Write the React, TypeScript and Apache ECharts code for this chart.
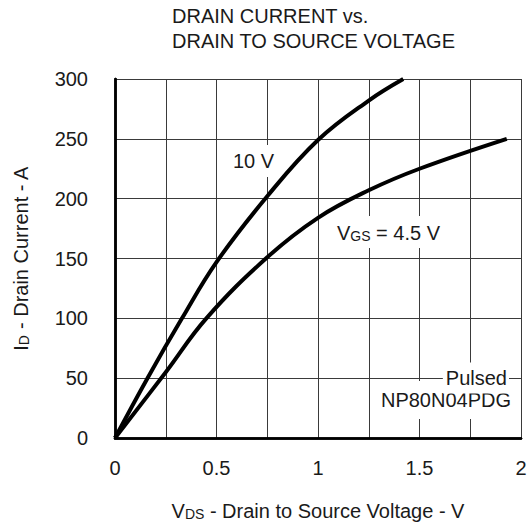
import React, { useEffect, useRef } from "react";
import * as echarts from "echarts";

const vgs10: [number, number][] = [
  [0, 0], [0.16, 50], [0.33, 100], [0.5, 147], [0.75, 202],
  [1.0, 249], [1.25, 282], [1.42, 300],
];
const vgs45: [number, number][] = [
  [0, 0], [0.25, 55], [0.45, 100], [0.75, 151], [1.0, 184],
  [1.25, 207], [1.5, 225], [1.93, 250],
];
const xTicks = { min: 0, max: 2, interval: 0.5 };
const yTicks = { min: 0, max: 300, interval: 50 };
const titleLines = ["DRAIN CURRENT vs.", "DRAIN TO SOURCE VOLTAGE"];

const FONT = "'Liberation Sans', Arial, sans-serif";
const TXT = "#1a1a1a";
const GRID = "#3a3a3a";

export default function App() {
  const ref = useRef<HTMLDivElement>(null);
  useEffect(() => {
    if (!ref.current) return;
    const chart = echarts.init(ref.current, undefined, { renderer: "svg" });
    const lbl = (text: string, x: number, y: number, align: string, pad: number[], rich?: any) => ({
      type: "text",
      x,
      y,
      z: 100,
      style: {
        text,
        x: 0,
        y: 0,
        align,
        verticalAlign: "middle",
        fontSize: 20,
        fontFamily: FONT,
        fill: TXT,
        backgroundColor: "#fff",
        padding: pad,
        rich,
      },
    });
    const subRich = {
      a: { fontSize: 20, fontFamily: FONT, color: TXT, fill: TXT, verticalAlign: "bottom", lineHeight: 22 },
      b: { fontSize: 14, fontFamily: FONT, color: TXT, fill: TXT, verticalAlign: "bottom", lineHeight: 20 },
    };
    const axisRich = {
      a: { fontSize: 20, fontFamily: FONT, color: TXT, verticalAlign: "bottom", lineHeight: 22 },
      b: { fontSize: 14, fontFamily: FONT, color: TXT, verticalAlign: "bottom", lineHeight: 20 },
    };
    const borderAxis = {
      show: true,
      z: 3,
      axisLine: { show: true, lineStyle: { color: "#000", width: 2.5 } },
      axisTick: { show: false },
      axisLabel: { show: false },
      splitLine: { show: false },
    };
    const gridLine = { show: true, lineStyle: { color: GRID, width: 1, type: "solid" } };
    chart.setOption({
      animation: false,
      backgroundColor: "#fff",
      title: {
        text: titleLines.join("\n"),
        left: 172,
        top: 3,
        padding: 0,
        textStyle: { fontSize: 20, lineHeight: 25, fontWeight: "normal", color: TXT, fontFamily: FONT },
      },
      grid: { left: 115, right: 11, top: 79, bottom: 84, containLabel: false, outerBoundsMode: "none" },
      xAxis: [
        {
          type: "value",
          ...xTicks,
          axisLine: { show: true, lineStyle: { color: "#000", width: 2.5 } },
          axisTick: { show: false },
          axisLabel: { margin: 20, fontSize: 20, color: TXT, fontFamily: FONT },
          splitLine: gridLine,
          minorTick: { show: false, splitNumber: 2 },
          minorSplitLine: gridLine,
          name: "{a|V}{b|DS}{a| - Drain to Source Voltage - V}",
          nameLocation: "middle",
          nameGap: 61,
          nameTextStyle: { rich: axisRich },
        },
        { type: "value", position: "top", ...xTicks, ...borderAxis },
      ],
      yAxis: [
        {
          type: "value",
          ...yTicks,
          axisLine: { show: true, lineStyle: { color: "#000", width: 2.5 } },
          axisTick: { show: false },
          axisLabel: { margin: 27, fontSize: 20, color: TXT, fontFamily: FONT },
          splitLine: gridLine,
          name: "{a|I}{b|D}{a| - Drain Current - A}",
          nameLocation: "middle",
          nameRotate: 90,
          nameGap: 84,
          nameTextStyle: { rich: axisRich },
        },
        { type: "value", position: "right", ...yTicks, ...borderAxis },
      ],
      series: [
        {
          name: "10 V",
          type: "line",
          data: vgs10,
          smooth: 0.4,
          showSymbol: false,
          lineStyle: { color: "#000", width: 4 },
          z: 2,
        },
        {
          name: "VGS = 4.5 V",
          type: "line",
          data: vgs45,
          smooth: 0.4,
          showSymbol: false,
          lineStyle: { color: "#000", width: 4 },
          z: 2,
        },
      ],
      graphic: [
        lbl("10 V", 232, 161, "left", [6, 3, 6, 1]),
        lbl("{a|V}{b|GS}{a| = 4.5 V}", 335, 232, "left", [5, 2, 5, 2], subRich),
        lbl("NP80N04PDG", 513, 400, "right", [9, 2, 9, 2]),
        lbl("Pulsed", 509, 378, "right", [8, 2, 3, 3]),
      ],
    });
    return () => chart.dispose();
  }, []);
  return (
    <div
      ref={ref}
      style={{ position: "absolute", left: 0, top: 0, width: 532, height: 522 }}
    />
  );
}
